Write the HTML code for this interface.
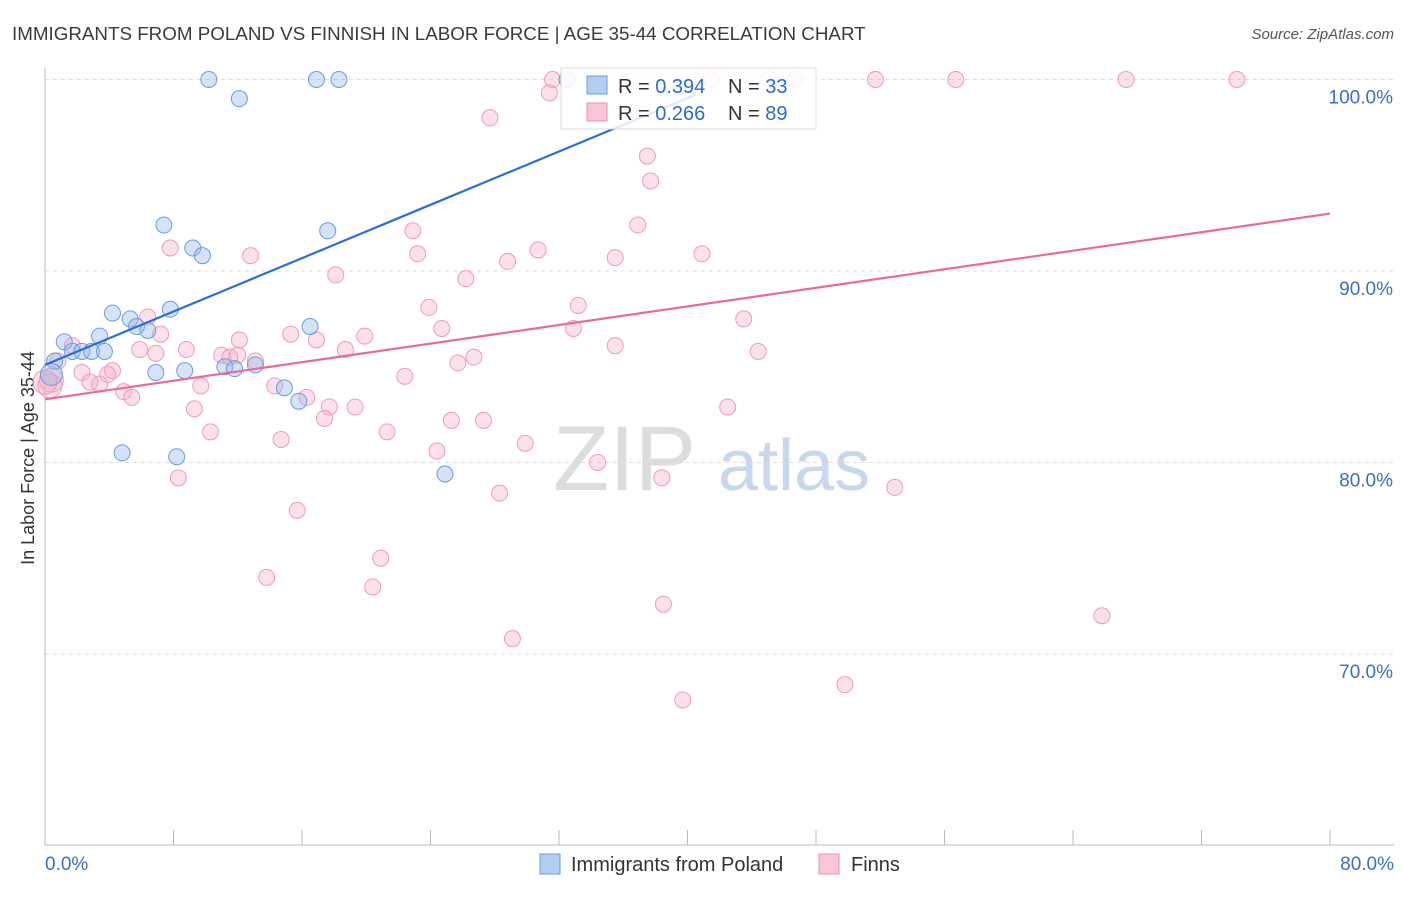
<!DOCTYPE html>
<html><head><meta charset="utf-8"><style>
body{margin:0;background:#fff;font-family:"Liberation Sans",sans-serif;}
svg text{font-family:"Liberation Sans",sans-serif;}
</style></head><body>
<svg id="chart" width="1406" height="892" xmlns="http://www.w3.org/2000/svg">
<text x="12" y="40" font-size="18.8" fill="#3a3a3a">IMMIGRANTS FROM POLAND VS FINNISH IN LABOR FORCE | AGE 35-44 CORRELATION CHART</text>
<text x="1394" y="39" font-size="15" fill="#555" font-style="italic" text-anchor="end">Source: ZipAtlas.com</text>
<text x="34" y="458" font-size="18" fill="#333" transform="rotate(-90 34 458)" text-anchor="middle">In Labor Force | Age 35-44</text>
<g><text x="553" y="490" font-size="92" fill="#ddd" font-family="Liberation Serif">ZIP</text><text x="718" y="490" font-size="72" fill="#c7d7ee">atlas</text></g>
<g id="grid"></g><g id="axes"></g><g id="pts"></g><g id="lines"></g>
<g>
<rect x="561" y="68" width="255" height="61" fill="rgba(255,255,255,0.85)" stroke="#ddd"/>
<rect x="587" y="76" width="20" height="18" fill="#b3cdf3" stroke="#6a9be0"/>
<text x="618" y="93" font-size="20" fill="#333">R = <tspan fill="#2a6bd6">0.394</tspan></text>
<text x="728" y="93" font-size="20" fill="#333">N = <tspan fill="#2a6bd6">33</tspan></text>
<rect x="587" y="103" width="20" height="18" fill="#f9c6d6" stroke="#ec8fae"/>
<text x="618" y="120" font-size="20" fill="#333">R = <tspan fill="#2a6bd6">0.266</tspan></text>
<text x="728" y="120" font-size="20" fill="#333">N = <tspan fill="#2a6bd6">89</tspan></text>
</g>
<g>
<rect x="540" y="854" width="20" height="20" fill="#b3cdf3" stroke="#6a9be0"/>
<text x="571" y="871" font-size="20" fill="#333">Immigrants from Poland</text>
<rect x="819" y="854" width="20" height="20" fill="#f9c6d6" stroke="#ec8fae"/>
<text x="851" y="871" font-size="20" fill="#333">Finns</text>
</g>
</svg>
<script>
const xTicks=[0,8,16,24,32,40,48,56,64,72,80];
const yTicks=[70,80,90,100];
const blueX=[10.2,16.9,18.3,12.1,32.5,7.4,9.2,9.8,17.6,4.2,7.8,5.3,5.7,6.4,3.4,16.5,1.2,1.7,2.3,2.9,3.7,0.6,0.4,6.9,8.7,11.2,11.8,13.1,14.9,15.8,4.8,8.2,24.9];
const blueY=[100,100,100,99.0,100,92.4,91.2,90.8,92.1,87.8,88.0,87.5,87.1,86.9,86.6,87.1,86.3,85.8,85.8,85.8,85.8,85.3,84.6,84.7,84.8,85.0,84.9,85.1,83.9,83.2,80.5,80.3,79.4];
const pinkX=[31.6,31.4,41.5,46.7,45.1,51.7,56.7,67.3,74.2,27.7,37.5,37.7,36.9,22.9,7.8,12.8,23.2,30.7,28.8,35.5,40.9,18.1,26.2,23.9,33.2,43.5,24.7,32.9,15.3,16.9,19.9,6.4,12.1,8.8,5.9,6.9,1.7,35.5,44.4,18.7,26.7,25.7,11.0,11.5,12.0,13.1,0.8,2.3,4.2,3.9,2.8,3.4,9.7,14.3,4.9,5.4,16.3,22.4,9.3,17.7,19.3,42.5,17.4,25.3,27.3,10.3,21.3,14.7,29.9,24.4,34.4,38.4,8.3,28.3,52.9,15.7,20.9,13.8,20.4,38.5,65.8,29.1,49.8,39.7,0.4,0.3,0.0,7.2];
const pinkY=[100,99.3,100,100,100,100,100,100,100,98.0,96.0,94.7,92.4,92.1,91.2,90.8,90.9,91.1,90.5,90.7,90.9,89.8,89.6,88.1,88.2,87.5,87.0,87.0,86.7,86.4,86.6,87.6,86.4,85.9,85.9,85.7,86.1,86.1,85.8,85.9,85.5,85.2,85.6,85.5,85.6,85.3,85.3,84.7,84.8,84.6,84.2,84.1,84.0,84.0,83.7,83.4,83.4,84.5,82.8,82.9,82.9,82.9,82.3,82.2,82.2,81.6,81.6,81.2,81.0,80.6,80.0,79.2,79.2,78.4,78.7,77.5,75.0,74.0,73.5,72.6,72.0,70.8,68.4,67.6,84.3,84.0,84.2,86.7];
const blueLine=[[0,85.1],[40.5,99.2]];
const pinkLine=[[0,83.3],[80,93.0]];
const X=v=>45+v*1285/80, Y=v=>79.5+(100-v)*19.15;
const NS='http://www.w3.org/2000/svg';
function mk(p,t,a){const e=document.createElementNS(NS,t);for(const k in a)e.setAttribute(k,a[k]);const g=document.getElementById(p);g.appendChild(e);return e;}
yTicks.forEach(t=>{
 const l=mk('grid','line',{x1:45,x2:1394,y1:Y(t),y2:Y(t),stroke:'#ddd','stroke-dasharray':'4,4'});
 
 
 const tx=mk('grid','text',{x:1393,y:Y(t)+24,'font-size':19,fill:'#3a6fc8','text-anchor':'end'});tx.textContent=t.toFixed(1)+'%';
 
 
});
const ax=mk('axes','line',{x1:45,x2:1394,y1:845,y2:845,stroke:'#bbb'});


const ay=mk('axes','line',{x1:45,x2:45,y1:68,y2:845,stroke:'#bbb'});


xTicks.forEach(t=>{const l=mk('axes','line',{x1:X(t),x2:X(t),y1:830,y2:845,stroke:'#bbb'});
 
 });
[[0,'start',45],[80,'end',1394]].forEach(([t,a,x])=>{const tx=mk('axes','text',{x:x,y:870,'font-size':19,fill:'#3a6fc8','text-anchor':a});tx.textContent=t.toFixed(1)+'%';
 
 });
pinkX.forEach((v,i)=>{const c=mk('pts','circle',{cx:X(v),cy:Y(pinkY[i]),r:(v<0.5?12:8),fill:'rgba(246,170,196,0.35)',stroke:'#ef9ab8','stroke-width':1});
 
 });
blueX.forEach((v,i)=>{const c=mk('pts','circle',{cx:X(v),cy:Y(blueY[i]),r:(v<0.5?11:8),fill:'rgba(150,185,235,0.4)',stroke:'#6a9be0','stroke-width':1});
 
 });
const bl=mk('lines','line',{x1:X(blueLine[0][0]),y1:Y(blueLine[0][1]),x2:X(blueLine[1][0]),y2:Y(blueLine[1][1]),stroke:'#2a6fd6','stroke-width':2.2});


const pl=mk('lines','line',{x1:X(pinkLine[0][0]),y1:Y(pinkLine[0][1]),x2:X(pinkLine[1][0]),y2:Y(pinkLine[1][1]),stroke:'#e86a9a','stroke-width':2.2});


</script>
</body></html>
